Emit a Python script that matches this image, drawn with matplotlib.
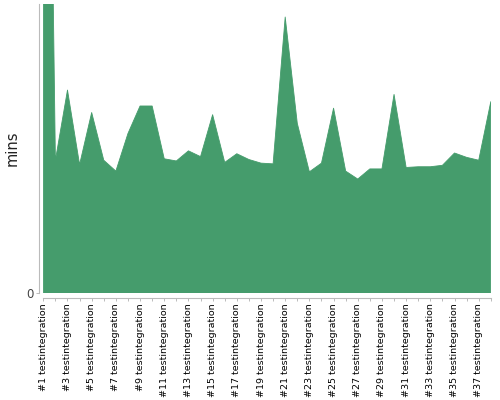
import matplotlib
matplotlib.use("Agg")
import matplotlib.pyplot as plt

# build durations in minutes
builds = ["#%d testintegration" % n for n in range(1, 39)]
mins = [143.0, 18.4, 28.1, 17.8, 25.0, 18.4, 16.9, 22.1, 25.9, 25.9,
        18.6, 18.3, 19.7, 18.9, 24.7, 18.1, 19.3, 18.5, 18.0, 17.9,
        38.2, 23.5, 16.8, 18.0, 25.6, 16.9, 15.8, 17.2, 17.2, 27.5,
        17.4, 17.5, 17.5, 17.7, 19.4, 18.8, 18.4, 26.5]
y_top = 40.0

green = "#459c6c"
grey = "#bbbbbb"

fig = plt.figure(figsize=(5, 4), dpi=100)
ax = fig.add_axes([0.0866, 0.2667, 0.8950, 0.7233])

x = list(range(len(builds)))
ax.fill_between(x, 0, mins, color=green, linewidth=0.6, edgecolor=green)

ax.set_xlim(0, len(builds) - 1)
ax.set_ylim(0, y_top)

ax.set_yticks([0])
ax.set_yticklabels(["0"])
ax.set_xticks(x)
ax.set_xticklabels([b if i % 2 == 0 else "" for i, b in enumerate(builds)])

for side in ["top", "right"]:
    ax.spines[side].set_visible(False)
for side in ["left", "bottom"]:
    ax.spines[side].set_position(("outward", 3.2))
    ax.spines[side].set_color(grey)
    ax.spines[side].set_linewidth(0.8)

ax.tick_params(axis="x", length=2.2, width=0.7, color=grey, pad=1.5,
               labelrotation=90, labelsize=6.8, labelcolor="black")
ax.tick_params(axis="y", length=2.0, width=0.7, color=grey, pad=2,
               labelsize=8.5, labelcolor="#444444")

ax.set_ylabel("mins", fontsize=10.5, color="#222222", labelpad=4.5)

fig.savefig("out.png", dpi=100)
